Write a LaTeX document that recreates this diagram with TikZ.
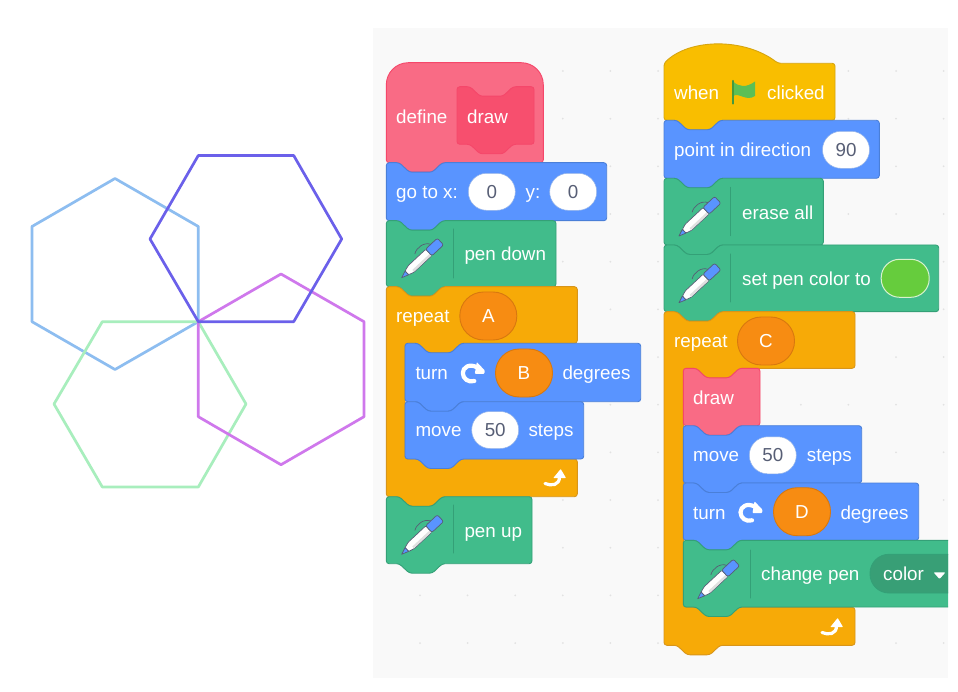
\documentclass[tikz,border=0pt]{standalone}
\usepackage{fontspec}
\setmainfont{Liberation Sans}
\usepackage{tikz}
\usepackage{xcolor}
\definecolor{panelgray}{HTML}{F9F9F9}
\definecolor{dotgray}{HTML}{E2E2E2}
\definecolor{motionfill}{HTML}{5994FF}
\definecolor{motionline}{HTML}{4A7FD8}
\definecolor{penfill}{HTML}{41BC8B}
\definecolor{penline}{HTML}{34A077}
\definecolor{penmenu}{HTML}{389F76}
\definecolor{loopfill}{HTML}{F7AA07}
\definecolor{loopline}{HTML}{D8951A}
\definecolor{hatfill}{HTML}{F9BE00}
\definecolor{hatline}{HTML}{D6A510}
\definecolor{deffill}{HTML}{F96B85}
\definecolor{defline}{HTML}{F5476A}
\definecolor{definner}{HTML}{F74F6E}
\definecolor{ovalfill}{HTML}{F78C12}
\definecolor{ovalline}{HTML}{D8780F}
\definecolor{numgray}{HTML}{575E75}
\definecolor{pencolor}{HTML}{66CC3D}
\definecolor{flagfill}{HTML}{5CBF55}
\definecolor{flagline}{HTML}{45993D}
\definecolor{hexblue}{HTML}{8DBDF0}
\definecolor{hexindigo}{HTML}{6B60EA}
\definecolor{hexviolet}{HTML}{CF78EC}
\definecolor{hexgreen}{HTML}{A8EEBD}
\newcommand{\stackblock}[5]{\draw[#1] (#2,#3) -- (#2+13,#3) -- (#2+23,#3+9.5) -- (#2+46,#3+9.5) -- (#2+56,#3) -- (#4,#3) -- (#4,#5) -- (#2+56,#5) -- (#2+46,#5+9.5) -- (#2+23,#5+9.5) -- (#2+13,#5) -- (#2,#5) -- cycle;}
\newcommand{\loopblock}[7]{\draw[loopblk] (#1,#2) -- (#1+13,#2) -- (#1+23,#2+9.5) -- (#1+46,#2+9.5) -- (#1+56,#2) -- (#3,#2) -- (#3,#4) -- (#5+56,#4) -- (#5+46,#4+9.5) -- (#5+23,#4+9.5) -- (#5+13,#4) -- (#5,#4) -- (#5,#6) -- (#3,#6) -- (#3,#7) -- (#1+56,#7) -- (#1+46,#7+9.5) -- (#1+23,#7+9.5) -- (#1+13,#7) -- (#1,#7) -- cycle;}
\newcommand{\penicon}[2]{\begin{scope}[shift={(#1,#2)},rotate=43]
\draw[numgray,line width=0.7pt] (44,-4.5) .. controls (41,-11) and (31,-12) .. (26,-8.5);
\draw[fill=white,draw=numgray,line width=0.7pt,rounded corners=1pt] (7,-2.6) -- (13,-4.4) -- (37,-4.4) -- (37,4.4) -- (13,4.4) -- (7,2.6) -- cycle;
\fill[black!12] (13,1.6) -- (36.5,1.6) -- (36.5,4) -- (13,4) -- cycle;
\draw[fill=motionfill,draw=numgray,line width=0.7pt,rounded corners=2pt] (37,-4.6) -- (53,-4.6) -- (53,4.6) -- (37,4.6) -- cycle;
\draw[fill=motionfill,draw=numgray,line width=0.7pt,line join=round] (0,0) -- (7,-2.6) -- (7,2.6) -- cycle;
\end{scope}}
\newcommand{\turnicon}[2]{\begin{scope}[shift={(#1,#2)}]
\draw[white,line width=4.2pt] (5,-5.5) .. controls (-3,-10) and (-9.5,-5.5) .. (-9.5,0) .. controls (-9.5,5.5) and (-4,10) .. (2,8);
\fill[white,rounded corners=0.8pt] (4.5,-11) -- (12.5,-2.5) -- (12,0.8) -- (2.5,0.8) -- cycle;
\end{scope}}
\newcommand{\loopicon}[2]{\begin{scope}[shift={(#1,#2)}]
\draw[white,line width=3.2pt] (-10,5.5) .. controls (-4,8) and (5,8) .. (4.5,-2);
\fill[white,rounded corners=0.6pt] (5.7,-9) -- (11,0) -- (-1.7,0) -- cycle;
\end{scope}}
\begin{document}
\begin{tikzpicture}[x=1pt,y=-1pt,line cap=round,line join=round,
  font=\fontsize{18.8}{22}\selectfont,
  hexline/.style={line width=2.7pt},
  blk/.style={line width=0.9pt,rounded corners=2.8pt},
  motionblk/.style={blk,fill=motionfill,draw=motionline},
  penblk/.style={blk,fill=penfill,draw=penline},
  loopblk/.style={blk,fill=loopfill,draw=loopline},
  hatblk/.style={blk,fill=hatfill,draw=hatline},
  defblk/.style={blk,fill=deffill,draw=defline},
  innerblk/.style={blk,fill=definner,draw=defline},
  sepline/.style={penline,line width=1pt},
  lbl/.style={anchor=base west,inner sep=0pt,text=white},
  numoval/.style={draw=motionline!60!white,line width=0.5pt,fill=white,text=numgray,inner sep=0pt,minimum width=47pt,minimum height=37pt,rounded corners=18.4pt},
  slotoval/.style={draw=ovalline,line width=0.9pt,fill=ovalfill,text=white,inner sep=0pt,minimum width=57pt,minimum height=48pt,rounded corners=23.8pt}]
\path[fill=white,use as bounding box] (0,0) rectangle (958,692);
\draw[hexline,hexblue] (198.3,321.7) -- (115,369.5) -- (32,321.7) -- (32,226.5) -- (115,178.5) -- (198.3,226.5) -- cycle;
\draw[hexline,hexgreen] (198.3,321.7) -- (246,404) -- (198.3,487) -- (102.3,487) -- (54,404) -- (102.3,321.7) -- cycle;
\draw[hexline,hexviolet] (198.3,321.7) -- (281,274) -- (364,321.7) -- (364,416.7) -- (281,464.7) -- (198.3,416.7) -- cycle;
\draw[hexline,hexindigo] (198.3,321.7) -- (150,239) -- (198.3,155.5) -- (293.7,155.5) -- (341.7,239) -- (293.7,321.7) -- cycle;
\fill[panelgray] (373,28) rectangle (948,678);
\foreach \dx in {0,...,11} \foreach \dy in {0,...,12} \fill[dotgray] (420+47.6*\dx,71+47.67*\dy) circle (1pt);

\draw[defblk] (386.3,120) [rounded corners=22pt] -- (386.3,62.7) -- (543.3,62.7) -- (543.3,120) [rounded corners=2.8pt] -- (543.3,162.7) -- (442.3,162.7) -- (432.3,172.2) -- (409.3,172.2) -- (399.3,162.7) -- (386.3,162.7) -- cycle;
\stackblock{innerblk}{457}{86.7}{534}{144.3}
\node[lbl] (definetxt) at (396,123.5) {define};
\node[lbl] (drawtxt) at (467,123.5) {draw};

\stackblock{motionblk}{386.3}{162.7}{606.7}{220.7}
\node[lbl] (gotoxtxt) at (396,199) {go to x:};
\node[numoval] (xval) at (491.8,191.8) {0};
\node[lbl] (ytxt) at (525.5,199) {y:};
\node[numoval] (yval) at (573.2,191.8) {0};

\stackblock{penblk}{386.3}{220.7}{556}{286.7}
\draw[sepline] (453.3,229) -- (453.3,278);
\penicon{401.7}{277.7}
\node[lbl] (pendowntxt) at (464.3,260.7) {pen down};

\loopblock{386.3}{286.7}{577.3}{343.3}{405}{459}{496.7}
\node[lbl] (repeatatxt) at (396,322.7) {repeat};
\node[slotoval] (slota) at (488.3,316) {A};
\loopicon{555}{478}

\stackblock{motionblk}{405}{343.3}{640.7}{401.7}
\node[lbl] (turnbtxt) at (415.3,379.3) {turn};
\turnicon{472.3}{373}
\node[slotoval] (slotb) at (524,373) {B};
\node[lbl] (degbtxt) at (562.3,379.3) {degrees};

\stackblock{motionblk}{405}{401.7}{583.7}{459}
\node[lbl] (moveatxt) at (415.3,436.7) {move};
\node[numoval] (stepsa) at (495.2,430) {50};
\node[lbl] (stepsatxt) at (528.3,436.7) {steps};

\stackblock{penblk}{386.3}{496.7}{532}{563.7}
\draw[sepline] (453.3,505) -- (453.3,553);
\penicon{401.7}{554.3}
\node[lbl] (penuptxt) at (464.3,537.3) {pen up};

\draw[hatblk] (664,63.3) .. controls (690,38) and (745,38) .. (778,63.3) -- (835,63.3) -- (835,120.3) -- (720,120.3) -- (710,129.8) -- (687,129.8) -- (677,120.3) -- (664,120.3) -- cycle;
\node[lbl] (whentxt) at (674,99.3) {when};
\fill[flagfill] (733,81.5) .. controls (739,87) and (746,88) .. (755,81.5) -- (755,96) .. controls (746,102) and (739,92) .. (733,96) -- cycle;
\draw[flagline,line width=2.4pt] (733,81) -- (733,103.5);
\node[lbl] (clickedtxt) at (767,99.3) {clicked};

\stackblock{motionblk}{664}{120.3}{879.3}{178.3}
\node[lbl] (pointtxt) at (674,156.7) {point in direction};
\node[numoval] (dirval) at (846,149.8) {90};

\stackblock{penblk}{664}{178.3}{823.3}{245}
\draw[sepline] (730.7,187.3) -- (730.7,235.7);
\penicon{679}{236}
\node[lbl] (erasetxt) at (742,219.3) {erase all};

\stackblock{penblk}{664}{245}{938.7}{311.7}
\draw[sepline] (730.7,254) -- (730.7,302);
\penicon{679}{302.7}
\node[lbl] (setpentxt) at (742,285.7) {set pen color to};
\node[numoval,draw=white!75!pencolor,line width=1pt,fill=pencolor,minimum width=48pt,minimum height=38pt] (colorval) at (905.2,278.3) {};

\loopblock{664}{311.7}{855}{368.3}{683.3}{607.3}{645.3}
\node[lbl] (repeatctxt) at (674,347.5) {repeat};
\node[slotoval] (slotc) at (766,341) {C};
\loopicon{832}{627}

\stackblock{defblk}{683.3}{368.3}{760}{425.7}
\node[lbl] (callstxt) at (693,404.3) {draw};

\stackblock{motionblk}{683.3}{425.7}{861.7}{483}
\node[lbl] (movebtxt) at (693,461) {move};
\node[numoval] (stepsb) at (772.8,455.3) {50};
\node[lbl] (stepsbtxt) at (806.7,461) {steps};

\stackblock{motionblk}{683.3}{483}{918.7}{540.3}
\node[lbl] (turndtxt) at (693,519.3) {turn};
\turnicon{750}{512.3}
\node[slotoval] (slotd) at (802,511.7) {D};
\node[lbl] (degdtxt) at (840.3,519.3) {degrees};

\begin{scope}
\clip (373,28) rectangle (948,678);
\stackblock{penblk}{683.3}{540.3}{975}{607}
\draw[sepline] (750.3,550) -- (750.3,598);
\penicon{697.7}{598.7}
\node[lbl] (changetxt) at (761,580) {change pen};
\draw[penline,fill=penmenu,line width=0.9pt,rounded corners=19pt] (870,554.3) rectangle (990,593);
\node[lbl] (colortxt) at (883,580) {color};
\fill[white,rounded corners=1pt] (933.5,572.3) -- (945.5,572.3) -- (939.5,579) -- cycle;
\end{scope}
\end{tikzpicture}
\end{document}
